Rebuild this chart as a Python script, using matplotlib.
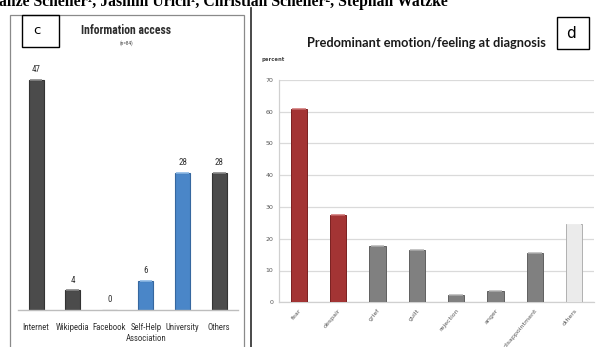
import matplotlib
matplotlib.use("Agg")
import matplotlib.pyplot as plt
from matplotlib.patches import Rectangle
from matplotlib.lines import Line2D

W, H, DPI = 597, 347, 100

# Panel c: information access (counts, n=84)
access_labels = ["Internet", "Wikipedia", "Facebook", "Self-Help\nAssociation", "University", "Others"]
access_counts = [47, 4, 0, 6, 28, 28]
access_colors = ["#4b4b4b", "#4b4b4b", "#4b4b4b", "#4a86c8", "#4a86c8", "#4b4b4b"]
access_edges = ["#333333", "#333333", "#333333", "#36679f", "#36679f", "#333333"]
access_caps = ["#8a8a8a", "#8a8a8a", "#8a8a8a", "#8dbbe8", "#8dbbe8", "#8a8a8a"]

# Panel d: predominant emotion at diagnosis (percent)
emotion_labels = ["fear", "despair", "grief", "guilt", "rejection", "anger", "disappointment", "others"]
emotion_pct = [60.7, 27.3, 17.8, 16.5, 2.2, 3.5, 15.5, 24.7]
emotion_colors = ["#a33434", "#a33434", "#808080", "#808080", "#808080", "#808080", "#808080", "#ebebeb"]
emotion_edges = ["#7a2020", "#7a2020", "#606060", "#606060", "#606060", "#606060", "#606060", "#b0b0b0"]
emotion_caps = ["#d07070", "#d07070", "#b5b5b5", "#b5b5b5", "#b5b5b5", "#b5b5b5", "#b5b5b5", "#ffffff"]
percent_ticks = [0, 10, 20, 30, 40, 50, 60, 70]

header = "anze Scheller\u00b9, Jasmin Urich\u00b9, Christian Scheller\u00b2, Stephan Watzke"

NARROW = ["Roboto Condensed", "Liberation Sans", "DejaVu Sans"]

fig = plt.figure(figsize=(W / DPI, H / DPI), dpi=DPI)
fig.patch.set_facecolor("white")


def fx(x):
    return x / W


def fy(y):
    return 1 - y / H


def px_axes(x0, y0, x1, y1):
    return fig.add_axes([fx(x0), fy(y1), (x1 - x0) / W, (y1 - y0) / H])


def ftext(x, y, s, **kw):
    return fig.text(fx(x), fy(y), s, **kw)


def fit_text(x, y, s, width, size, **kw):
    t = ftext(x, y, s, fontsize=size, **kw)
    r = fig.canvas.get_renderer()
    w = t.get_window_extent(renderer=r).width
    t.set_fontsize(size * width / w)
    return t


# Header line (cut off at the top edge)
fit_text(-1, 6.0, header, 452, 10, family="Liberation Serif", weight="bold",
         va="baseline", ha="left", color="black")

# Panel frames
fig.patches.append(Rectangle((fx(10), fy(360)), (244 - 10) / W, (360 - 15) / H,
                             transform=fig.transFigure, fill=False,
                             edgecolor="#8a8a8a", lw=0.9))
fig.lines.append(Line2D([fx(251), fx(251)], [fy(8), fy(350)], transform=fig.transFigure,
                        color="#3a3a3a", lw=1.3))

# Panel labels
fig.patches.append(Rectangle((fx(22), fy(47)), 37 / W, 32 / H, transform=fig.transFigure,
                             fill=False, edgecolor="black", lw=1.0))
ftext(37, 31, "c", fontsize=9.5, ha="center", va="center")
fig.patches.append(Rectangle((fx(557), fy(49)), 32 / W, 32 / H, transform=fig.transFigure,
                             fill=False, edgecolor="black", lw=1.0))
ftext(571, 33, "d", fontsize=11, ha="center", va="center")

# ---- Panel c ----
ax1 = px_axes(17.7, 65.5, 237.5, 310)
x1 = list(range(len(access_counts)))
bw = 0.41
ax1.bar(x1, access_counts, width=bw, color=access_colors, edgecolor=access_edges, lw=0.8)
for xi, v, c in zip(x1, access_counts, access_caps):
    if v > 0:
        ax1.hlines(v, xi - bw / 2 + 0.03, xi + bw / 2 - 0.03, color=c, lw=1.2)
    ax1.annotate(str(v), (xi, v), xytext=(0, 7.5), textcoords="offset points",
                 ha="center", va="center", fontsize=6.5, family=NARROW, color="#333333")
ax1.set_xlim(-0.5, len(access_counts) - 0.5)
ax1.set_ylim(0, 50)
ax1.set_xticks(x1)
ax1.set_xticklabels(access_labels, fontsize=6.3, family=NARROW, color="#333333",
                    linespacing=1.3)
ax1.tick_params(axis="x", length=0, pad=9)
ax1.set_yticks([])
for s in ["top", "right", "left"]:
    ax1.spines[s].set_visible(False)
ax1.spines["bottom"].set_color("#bdbdbd")
ax1.spines["bottom"].set_linewidth(1.0)
ax1.patch.set_alpha(0)

fit_text(126, 30, "Information access", 90, 10, family=NARROW, weight="bold",
         ha="center", va="center", color="#2e2e2e")
ftext(127, 43, "(n=84)", fontsize=3.8, family=NARROW, ha="center", va="center", color="#444444")

# ---- Panel d ----
ax2 = px_axes(279, 79.7, 594, 302.3)
x2 = list(range(len(emotion_pct)))
bw2 = 0.41
ax2.set_axisbelow(True)
ax2.grid(axis="y", color="#dadada", lw=0.9)
ax2.bar(x2, emotion_pct, width=bw2, color=emotion_colors, edgecolor=emotion_edges, lw=0.7, zorder=3)
for xi, v, c in zip(x2, emotion_pct, emotion_caps):
    ax2.hlines(v, xi - bw2 / 2 + 0.03, xi + bw2 / 2 - 0.03, color=c, lw=1.1, zorder=4)
ax2.set_xlim(-0.5, len(emotion_pct) - 0.5)
ax2.set_ylim(0, 70)
ax2.set_yticks(percent_ticks)
ax2.set_yticklabels([str(t) for t in percent_ticks], fontsize=4.5, color="#555555")
ax2.set_xticks(x2)
ax2.set_xticklabels(emotion_labels, fontsize=4.5, color="#555555", rotation=50,
                    ha="right", va="top", rotation_mode="anchor")
ax2.tick_params(axis="both", length=0)
ax2.tick_params(axis="y", pad=4)
ax2.tick_params(axis="x", pad=4)
for s in ["top", "right"]:
    ax2.spines[s].set_visible(False)
for s in ["left", "bottom"]:
    ax2.spines[s].set_color("#d0d0d0")
    ax2.spines[s].set_linewidth(0.9)
ax2.patch.set_alpha(0)

fit_text(426, 43, "Predominant emotion/feeling at diagnosis", 237, 11, family="Lato",
         weight="bold", ha="center", va="center", color="#1a1a1a")
ftext(273, 59, "percent", fontsize=3.8, ha="center", va="center", color="#444444", weight="bold")

fig.savefig("out.png", dpi=DPI, facecolor="white")
